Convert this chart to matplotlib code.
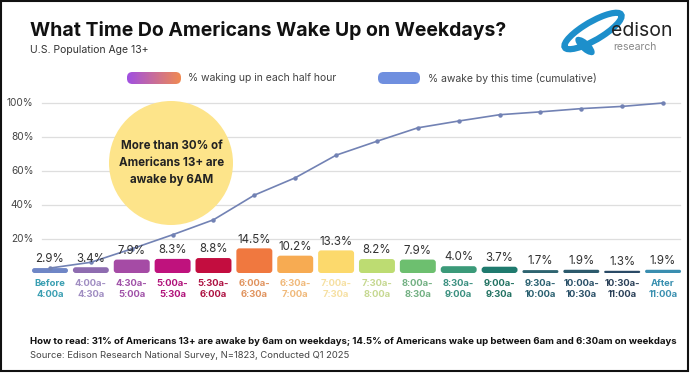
import numpy as np
import matplotlib
matplotlib.use("Agg")
from matplotlib import pyplot as plt
from matplotlib.patches import FancyBboxPatch, Ellipse, Rectangle

plt.rcParams['font.family'] = ['Inter', 'DejaVu Sans']

# data
slots = ['Before\n4:00a', '4:00a-\n4:30a', '4:30a-\n5:00a', '5:00a-\n5:30a', '5:30a-\n6:00a',
         '6:00a-\n6:30a', '6:30a-\n7:00a', '7:00a-\n7:30a', '7:30a-\n8:00a', '8:00a-\n8:30a',
         '8:30a-\n9:00a', '9:00a-\n9:30a', '9:30a-\n10:00a', '10:00a-\n10:30a', '10:30a-\n11:00a',
         'After\n11:00a']
pct_waking = [2.9, 3.4, 7.9, 8.3, 8.8, 14.5, 10.2, 13.3, 8.2, 7.9, 4.0, 3.7, 1.7, 1.9, 1.3, 1.9]
pct_awake = [2.9, 6.3, 14.2, 22.5, 31.3, 45.8, 56.0, 69.3, 77.5, 85.4, 89.4, 93.1, 94.8, 96.7, 98.0, 100.0]
y_ticks = [20, 40, 60, 80, 100]

bar_colors = ['#6f86c6', '#8e6cb0', '#a54ba5', '#bf127d', '#c30d3f', '#f0783f', '#f7ab52', '#fcd96c',
              '#bddc72', '#6dbf6f', '#3b9a79', '#1f7a6e', '#2e6470', '#2c5a6c', '#2a4a66', '#3a8eb0']
label_colors = ['#3a9fb2', '#a08dc2', '#a052a8', '#b0127a', '#ae1242', '#e0935e', '#f0b97a', '#f6e0a2',
                '#c6d891', '#72b082', '#3b9080', '#227262', '#2a6070', '#2a5068', '#2a4058', '#3a90b0']

W, H = 692, 382
fig = plt.figure(figsize=(W / 100, H / 100), dpi=100)

def fx(px):
    return px / W

def fy(py):
    return 1 - py / H

# main axes: x centres at 50 + 40.87*i, y 0..100 maps to 273..103 px
step = 40.87
left_px = 50 - step / 2
ax = fig.add_axes([fx(left_px), fy(273), 16 * step / W, 170 / H])
ax.set_xlim(-0.5, 15.5)
ax.set_ylim(0, 100)
ax.axis('off')

px_x = step          # pixels per x unit
px_y = 1.7           # pixels per y unit
aspect = px_x / px_y

for v in y_ticks:
    ax.plot([-0.2, 15.42], [v, v], color='#dedede', lw=0.9, zorder=0, clip_on=False)
    ax.text(-0.4, v, f'{v}%', ha='right', va='center', fontsize=7.3, color='#444444')

x = np.arange(len(slots))
bw = 0.88
for i, (h, c) in enumerate(zip(pct_waking, bar_colors)):
    r_px = min(3.0, h * px_y / 2)
    r = r_px / px_x
    p = FancyBboxPatch((i - bw / 2, 0), bw, h,
                       boxstyle=f'round,pad=0,rounding_size={r}',
                       mutation_aspect=aspect, fc=c, ec='none', zorder=2)
    ax.add_patch(p)
    ax.text(i, h + 1.6, f'{h:.1f}%', ha='center', va='bottom', fontsize=8.3,
            color='#333333', zorder=4)
    ax.text(i, -3.3, slots[i], ha='center', va='top', fontsize=6.8, fontweight='bold',
            color=label_colors[i], linespacing=1.35)

ax.plot(x, pct_awake, color='#7282b4', lw=1.2, marker='o', ms=2.2, zorder=3, clip_on=False)

# yellow callout circle
fig.patches.append(Ellipse((fx(171), fy(163)), 124 / W, 124 / H, transform=fig.transFigure,
                           fc='#fde48a', ec='none', zorder=1))
fig.text(fx(172), fy(163), 'More than 30% of\nAmericans 13+ are\nawake by 6AM', ha='center',
         va='center', fontsize=8.3, fontweight='bold', color='#222222', linespacing=1.55)

# titles
fig.text(fx(30), fy(30), 'What Time Do Americans Wake Up on Weekdays?', fontsize=14,
         fontweight='bold', color='#111111', va='center')
fig.text(fx(30), fy(50), 'U.S. Population Age 13+', fontsize=7.5, color='#333333', va='center')

# legend
gax = fig.add_axes([fx(127), fy(84), 54 / W, 12 / H])
grad = np.linspace(0, 1, 100).reshape(1, -1)
cmap = matplotlib.colors.LinearSegmentedColormap.from_list('g', ['#a050e2', '#f08a52'])
im = gax.imshow(grad, aspect='auto', cmap=cmap, extent=(0, 1, 0, 1))
clip = FancyBboxPatch((0, 0), 1, 1, boxstyle='round,pad=0,rounding_size=0.1',
                      mutation_aspect=54 / 12, transform=gax.transAxes, fc='none', ec='none')
gax.add_patch(clip)
im.set_clip_path(clip)
gax.axis('off')
fig.text(fx(188), fy(78), '% waking up in each half hour', fontsize=7.5, color='#444444', va='center')

fig.patches.append(FancyBboxPatch((fx(378), fy(84)), 42 / W, 12 / H,
                                  boxstyle='round,pad=0,rounding_size=0.008',
                                  mutation_aspect=W / H, transform=fig.transFigure,
                                  fc='#6f8fdf', ec='none'))
fig.text(fx(428), fy(78), '% awake by this time (cumulative)', fontsize=7.5, color='#444444', va='center')

# logo
fig.patches.append(Ellipse((fx(593), fy(31)), 26 / W, 46 / H, angle=-40, transform=fig.transFigure,
                           fc='none', ec='#1d8fcb', lw=4.5))
fig.patches.append(Ellipse((fx(585), fy(46)), 13 / W, 20 / H, angle=25, transform=fig.transFigure,
                           fc='#1d8fcb', ec='none'))
fig.text(fx(611), fy(31), 'edison', fontsize=14, color='#222222', va='center')
fig.text(fx(613), fy(47), 'research', fontsize=7.5, color='#888888', va='center')

# footer
fig.text(fx(30), fy(341), 'How to read: 31% of Americans 13+ are awake by 6am on weekdays; '
         '14.5% of Americans wake up between 6am and 6:30am on weekdays',
         fontsize=6.9, fontweight='bold', color='#111111', va='center')
fig.text(fx(30), fy(356), 'Source: Edison Research National Survey, N=1823, Conducted Q1 2025',
         fontsize=6.8, color='#444444', va='center')

# frame
fig.patches.append(Rectangle((fx(1), fy(371)), 687 / W, 370 / H, transform=fig.transFigure,
                             fc='none', ec='#111111', lw=1.5))

fig.savefig('out.png', dpi=100)
